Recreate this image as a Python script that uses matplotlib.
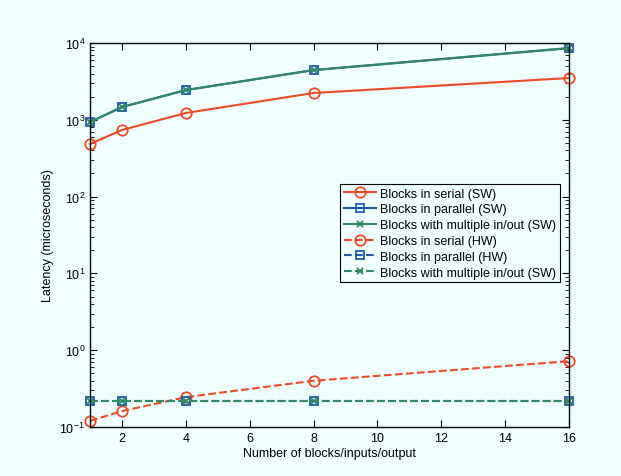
import numpy as np
import matplotlib
matplotlib.use("Agg")
import matplotlib.pyplot as plt
from matplotlib.ticker import LogLocator, NullFormatter

plt.rcParams['font.family'] = ['Liberation Sans', 'DejaVu Sans']

x = [1, 2, 4, 8, 16]
serial_sw = [484, 736, 1226, 2233, 3500]
parallel_sw = [936, 1468, 2443, 4450, 8600]
multi_sw = [930, 1460, 2430, 4420, 8550]
serial_hw = [0.12, 0.161, 0.245, 0.40, 0.72]
parallel_hw = [0.218, 0.218, 0.218, 0.218, 0.218]
multi_hw = [0.218, 0.218, 0.218, 0.218, 0.218]

labels = ['Blocks in serial (SW)', 'Blocks in parallel (SW)',
          'Blocks with multiple in/out (SW)', 'Blocks in serial (HW)',
          'Blocks in parallel (HW)', 'Blocks with multiple in/out (SW)']

red = '#EE4B25'
blue = '#1F5BA8'
green = '#2E8B62'
bg = '#F0FFFF'

fig = plt.figure(figsize=(6.21, 4.77), dpi=100, facecolor=bg)
ax = fig.add_axes([90/621, 1 - 428/477, (569-90)/621, (428-44)/477])
ax.set_facecolor(bg)

kw = dict(lw=1.5, mew=1.3, clip_on=False)
ax.plot(x, serial_sw, '-', color=red, marker='o', ms=7.5, mfc='none', label=labels[0], **kw)
ax.plot(x, parallel_sw, '-', color=blue, marker='s', ms=6, mfc='none', label=labels[1], **kw)
ax.plot(x, multi_sw, '-', color=green, marker='x', ms=4.5, label=labels[2], **kw)
ax.plot(x, serial_hw, '--', color=red, marker='o', ms=7.5, mfc='none', label=labels[3], **kw)
ax.plot(x, parallel_hw, '--', color=blue, marker='s', ms=6, mfc='none', label=labels[4], **kw)
ax.plot(x, multi_hw, '--', color=green, marker='x', ms=4.5, label=labels[5], **kw)

ax.set_yscale('log')
ax.set_xlim(1, 16)
ax.set_ylim(0.1, 1e4)
ax.set_xticks([2, 4, 6, 8, 10, 12, 14, 16])
ax.yaxis.set_major_locator(LogLocator(base=10, numticks=10))
ax.yaxis.set_minor_locator(LogLocator(base=10, subs=np.arange(2, 10), numticks=20))
ax.yaxis.set_minor_formatter(NullFormatter())
ax.tick_params(which='both', direction='in', top=True, right=True, labelsize=9)
ax.tick_params(which='major', length=5)
ax.tick_params(which='minor', length=3)
for s in ax.spines.values():
    s.set_linewidth(1.0)

ax.set_xlabel('Number of blocks/inputs/output', fontsize=9, labelpad=2)
ax.set_ylabel('Latency (microseconds)', fontsize=9)

leg = ax.legend(loc='upper left', bbox_to_anchor=(340/621, 1 - 185/477),
                bbox_transform=fig.transFigure, fontsize=9,
                fancybox=False, edgecolor='black', framealpha=1, facecolor=bg,
                handlelength=2.6, borderpad=0.3, labelspacing=0.3, handletextpad=0.3,
                borderaxespad=0)
leg.get_frame().set_linewidth(0.8)

fig.savefig('out.png', dpi=100, facecolor=bg)
